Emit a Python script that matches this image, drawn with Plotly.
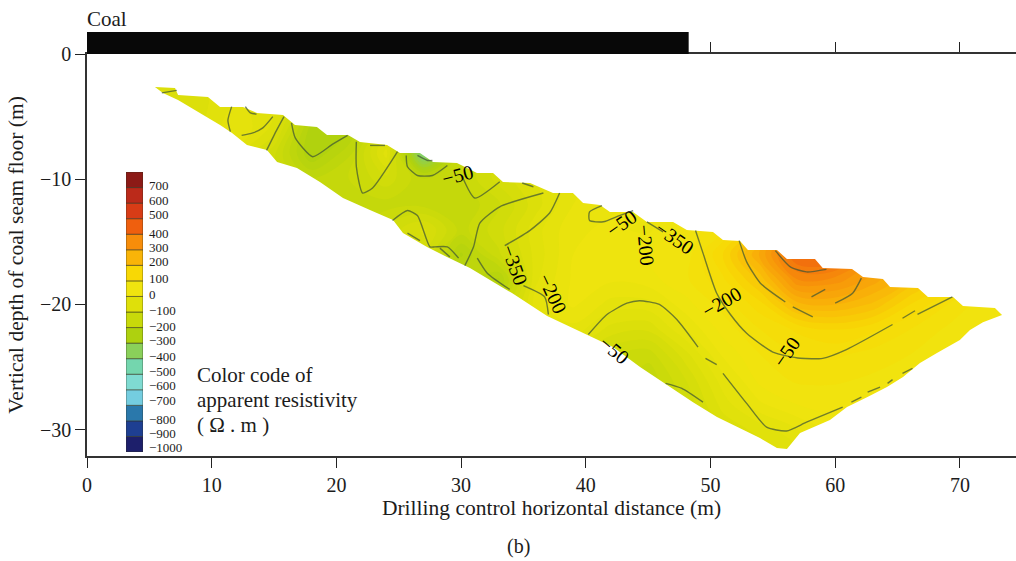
import plotly.graph_objects as go

# --- value grid (colour-coded apparent resistivity, ohm.m) ---
grid_x = [3, 6, 9, 12, 15, 18, 21, 24, 27, 30, 33, 36, 39, 42, 45, 48, 51, 54, 57, 60, 63, 66, 69, 72, 75]
grid_y = [-2, -4, -6, -8, -10, -12, -14, -16, -18, -20, -22, -24, -26, -28, -30, -32]
resistivity = [
    [-110, -110, -110, -80, -110, -220, -230, -120, -300, -170, -110, -80, -50, -20, -10, 10, 80, 170, 280, 300, 230, 140, 60, 20, 10],
    [-110, -110, -110, -70, -90, -220, -240, -120, -350, -170, -110, -80, -50, -20, -10, 10, 80, 170, 280, 300, 230, 140, 60, 20, 10],
    [-110, -110, -110, -50, -110, -290, -280, -130, -400, -170, -110, -80, -50, -20, -10, 10, 90, 170, 300, 320, 240, 140, 60, 20, 10],
    [-110, -110, -120, -90, -170, -300, -230, -90, -440, -210, -130, -85, -50, -20, -10, 10, 90, 170, 320, 340, 240, 140, 60, 20, 10],
    [-110, -110, -120, -110, -180, -220, -200, -160, -220, -200, -140, -100, -60, -30, -10, 10, 80, 170, 330, 350, 250, 150, 70, 20, 10],
    [-110, -110, -120, -110, -180, -210, -210, -210, -210, -220, -180, -110, -50, -30, -15, 15, 70, 170, 330, 350, 250, 150, 70, 20, 10],
    [-110, -110, -120, -110, -180, -210, -210, -170, -120, -210, -160, -85, -30, -20, -30, 10, 50, 150, 330, 350, 250, 150, 70, 20, 10],
    [-110, -110, -120, -110, -180, -210, -210, -170, -140, -280, -180, -90, -25, -10, 0, 10, 100, 230, 385, 390, 280, 160, 80, 20, 10],
    [-110, -110, -120, -110, -180, -210, -210, -170, -140, -230, -280, -80, -20, -20, -10, 20, 70, 160, 300, 290, 240, 170, 100, 40, 10],
    [-110, -110, -120, -110, -180, -210, -210, -170, -140, -230, -230, -60, -20, -60, -60, -10, 35, 90, 190, 200, 170, 100, 50, 10, 10],
    [-110, -110, -120, -110, -180, -210, -210, -170, -140, -230, -230, -60, -60, -110, -120, -50, 10, 50, 80, 100, 80, 50, 20, 10, 10],
    [-110, -110, -120, -110, -180, -210, -210, -170, -140, -230, -230, -60, -100, -170, -190, -110, -20, 25, 50, 55, 40, 25, 10, 10, 10],
    [-110, -110, -120, -110, -180, -210, -210, -170, -140, -230, -230, -60, -100, -170, -220, -150, -60, 10, 30, 30, 20, 10, 10, 10, 10],
    [-110, -110, -120, -110, -180, -210, -210, -170, -140, -230, -230, -60, -100, -170, -220, -170, -90, -30, 0, 5, 0, 10, 10, 10, 10],
    [-110, -110, -120, -110, -180, -210, -210, -170, -140, -230, -230, -60, -100, -170, -220, -170, -120, -90, -50, -10, 0, 10, 10, 10, 10],
    [-110, -110, -120, -110, -180, -210, -210, -170, -140, -230, -230, -60, -100, -170, -220, -170, -120, -120, -90, -10, 0, 10, 10, 10, 10],
]

# --- surveyed area outline ---
top_edge_x = [5.45, 7.06, 7.3, 9.7, 10.67, 12.51, 13.63, 15.72, 16.68, 18.44, 19.25, 20.93, 21.89, 24.06, 25.1, 26.7, 27.75, 29.67, 31.27, 32.56, 33.36, 35.53, 37.37, 38.97, 39.78, 41.14, 41.94, 43.79, 44.9, 47.0, 48.1, 50.2, 51.0, 52.37, 53.0, 55.33, 56.13, 58.38, 59.0, 61.35, 62.23, 63.83, 64.4, 66.64, 67.44, 69.45, 70.25, 72.81, 73.38]
top_edge_y = [-2.64, -2.72, -3.27, -3.43, -4.23, -4.23, -4.71, -4.87, -5.67, -5.83, -6.47, -6.47, -7.03, -7.27, -7.91, -7.91, -8.63, -8.71, -9.5, -9.5, -10.22, -10.3, -11.1, -11.1, -11.9, -12.06, -12.62, -12.62, -13.42, -13.42, -14.06, -14.22, -14.86, -14.94, -15.65, -15.65, -16.37, -16.37, -17.09, -17.17, -17.81, -17.97, -18.61, -18.69, -19.41, -19.41, -20.13, -20.29, -20.85]
bottom_edge_x = [73.38, 71.85, 70.81, 70.0, 68.16, 66.8, 65.44, 64.15, 62.55, 60.95, 59.58, 57.18, 56.13, 55.33, 53.97, 52.37, 50.52, 48.6, 46.5, 44.35, 42.18, 40.18, 38.17, 36.9, 34.08, 32.32, 30.71, 28.87, 27.27, 25.34, 24.54, 22.69, 20.53, 18.68, 16.84, 15.24, 14.43, 12.83, 11.63, 10.67, 8.9, 7.3, 6.09, 5.45]
bottom_edge_y = [-20.85, -21.41, -22.04, -22.84, -23.88, -24.68, -25.8, -26.6, -27.4, -28.19, -29.23, -30.27, -31.55, -31.47, -30.67, -29.87, -28.99, -27.8, -26.44, -25.0, -23.4, -22.44, -21.49, -20.93, -19.09, -18.05, -17.09, -16.21, -15.42, -14.3, -13.26, -12.46, -11.5, -10.22, -9.1, -8.63, -7.67, -7.27, -6.31, -5.67, -4.63, -3.67, -3.12, -2.64]

# --- contour lines, segments separated by None ---
contour_segments = [
    [(6.0, -3.1), (7.2, -2.9)],
    [(11.6, -4.2), (11.3, -5.3), (11.5, -6.2)],
    [(12.7, -4.2), (13.1, -4.7), (13.6, -4.8)],
    [(14.9, -5.0), (14.1, -5.9), (13.3, -6.3), (12.4, -6.5)],
    [(15.8, -5.0), (15.2, -6.1), (14.4, -7.7)],
    [(16.4, -5.5), (16.7, -6.7), (18.1, -8.2), (19.7, -7.2), (20.9, -6.5)],
    [(21.6, -7.0), (21.6, -9.0), (22.1, -11.1), (22.9, -10.7), (24.9, -7.8)],
    [(22.7, -7.3), (23.9, -7.3)],
    [(25.6, -8.1), (25.7, -9.0), (26.5, -9.7), (27.7, -9.7), (28.9, -8.9)],
    [(26.5, -8.1), (27.3, -8.5), (27.7, -8.5)],
    [(30.1, -9.8), (31.1, -11.5), (33.1, -10.2)],
    [(34.9, -10.3), (35.8, -10.6)],
    [(24.5, -13.3), (25.7, -12.5), (26.5, -12.9), (27.5, -15.4), (27.9, -15.4), (28.9, -15.4), (29.8, -16.3)],
    [(25.7, -14.3), (26.7, -14.9)],
    [(28.3, -15.5), (29.1, -16.2)],
    [(30.3, -16.9), (31.0, -15.4), (31.5, -13.5), (33.1, -12.2), (36.6, -11.1)],
    [(33.5, -15.3), (35.5, -14.1), (37.1, -12.7), (37.9, -11.1)],
    [(31.3, -16.3), (32.1, -17.5), (33.9, -18.8)],
    [(35.0, -18.5), (36.7, -19.4), (37.0, -20.8)],
    [(41.3, -12.1), (40.3, -12.6), (40.3, -13.3), (41.4, -13.4), (42.7, -12.9), (43.8, -12.5)],
    [(44.9, -13.4), (46.2, -14.2)],
    [(48.8, -14.1), (49.4, -15.9), (50.5, -19.1), (51.6, -20.8), (52.9, -22.3), (55.0, -23.8), (57.2, -24.3), (59.0, -24.3), (60.9, -23.6), (64.6, -21.6)],
    [(65.4, -21.1), (66.4, -20.5)],
    [(66.6, -20.8), (69.4, -19.4)],
    [(52.3, -14.9), (52.9, -16.6), (54.0, -18.3), (56.0, -19.8)],
    [(56.6, -20.2), (58.2, -21.0)],
    [(55.2, -15.7), (56.4, -17.0), (57.7, -17.4), (59.3, -17.2)],
    [(58.1, -19.4), (59.2, -18.8)],
    [(60.0, -19.9), (61.4, -19.1), (62.1, -17.9)],
    [(40.2, -22.4), (41.7, -20.8), (43.3, -19.9), (44.3, -19.7), (45.9, -20.0), (47.3, -21.2), (49.0, -23.4)],
    [(49.6, -24.3), (50.5, -24.8)],
    [(51.0, -25.5), (52.9, -27.9), (54.5, -29.8), (56.1, -30.1), (57.7, -29.4), (60.6, -28.2)],
    [(61.3, -27.8), (62.1, -27.4)],
    [(62.6, -27.0), (63.6, -26.6)],
    [(64.2, -26.3), (64.6, -26.0)],
    [(65.4, -25.5), (66.2, -25.1)],
    [(46.4, -26.3), (47.7, -26.7), (49.4, -27.8)],
]

# --- contour labels ---
label_text = ["−50", "−350", "−200", "−50", "−200", "−350", "−200", "−50", "−50"]
label_x = [29.75, 34.3, 37.3, 42.9, 44.8, 47.15, 50.9, 42.3, 56.1]
label_y = [-9.66, -16.85, -19.1, -13.5, -15.26, -14.7, -19.8, -23.6, -23.8]
label_angle = [-15, 70, 65, -35, 85, 35, -30, 40, -55]

# --- colour code ---
legend_values = [-1000, -900, -800, -700, -600, -500, -400, -300, -200, -100, 0, 100, 200, 300, 400, 500, 600, 700]
legend_colors = ["#1d1f6b", "#1e3f92", "#2a78ab", "#74cde0", "#7fdbd2", "#74d6ae", "#8ad05a", "#aed10f",
                 "#c8d90a", "#dfe00a", "#f0e40f", "#f8d805", "#f9b408", "#f78d0a", "#ef5f0e", "#d83c16", "#bb2a1a", "#8c1a16"]
legend_tick_pos = [-1018, -928, -838, -716, -619, -529, -433, -336, -240, -137, -34, 68, 178, 268, 358, 474, 564, 666]
legend_tick_text = ["−1000", "−900", "−800", "−700", "−600", "−500", "−400", "−300", "−200", "−100",
                    "0", "100", "200", "300", "400", "500", "600", "700"]

x_ticks = [0, 10, 20, 30, 40, 50, 60, 70]
y_ticks = [0, -10, -20, -30]
coal_end = 48.25
X_MAX, Y_MIN = 74.5, -32.1

SERIF = "Liberation Serif"
INK = "#1c1c1c"
scale = [[(v + 1000) / 1700, c] for v, c in zip(legend_values, legend_colors)]

fig = go.Figure()

fig.add_trace(go.Contour(
    x=grid_x, y=grid_y, z=resistivity, zauto=False, zmin=-1000, zmax=700, colorscale=scale,
    showscale=False, hoverinfo="skip", line=dict(width=0),
    contours=dict(coloring="fill", start=-1000, end=700, size=25, showlines=False),
))

# white masks outside the surveyed outline
fig.add_trace(go.Scatter(
    x=[0, 0, X_MAX, X_MAX] + top_edge_x[::-1],
    y=[top_edge_y[0], 0, 0, top_edge_y[-1]] + top_edge_y[::-1],
    mode="lines", fill="toself", fillcolor="white", line=dict(width=0, color="white"),
    hoverinfo="skip", showlegend=False,
))
fig.add_trace(go.Scatter(
    x=[0, 0, X_MAX, X_MAX] + bottom_edge_x,
    y=[bottom_edge_y[-1], Y_MIN, Y_MIN, bottom_edge_y[0]] + bottom_edge_y,
    mode="lines", fill="toself", fillcolor="white", line=dict(width=0, color="white"),
    hoverinfo="skip", showlegend=False,
))

line_x, line_y = [], []
for seg in contour_segments:
    line_x += [p[0] for p in seg] + [None]
    line_y += [p[1] for p in seg] + [None]
fig.add_trace(go.Scatter(
    x=line_x, y=line_y, mode="lines", hoverinfo="skip", showlegend=False,
    line=dict(color="rgba(62,84,52,0.72)", width=1.4, shape="spline", smoothing=0.6),
))

# colour code bar
fig.add_trace(go.Bar(
    x=[0] * len(legend_values), y=[100] * len(legend_values), base=[v - 50 for v in legend_values],
    width=1, xaxis="x2", yaxis="y2", hoverinfo="skip", showlegend=False,
    marker=dict(color=legend_colors, line=dict(color="rgba(50,50,30,0.55)", width=1)),
))

annotations = [
    dict(x=t_x, y=t_y, xref="x", yref="y", text=t, textangle=a, showarrow=False,
         font=dict(family=SERIF, size=20, color="black"))
    for t, t_x, t_y, a in zip(label_text, label_x, label_y, label_angle)
]
for text, px, py, size in [("Color code of", 195, 375, 21), ("apparent resistivity", 195, 400, 21), ("( Ω . m )", 195, 425, 21)]:
    annotations.append(dict(x=(px - 87) / 929, y=(456 - py) / 402, xref="paper", yref="paper", text=text,
                            xanchor="left", yanchor="middle", showarrow=False,
                            font=dict(family=SERIF, size=size, color=INK)))
annotations.append(dict(x=-2 / 929, y=(456 - 19) / 402, xref="paper", yref="paper", text="Coal", xanchor="left",
                        yanchor="middle", showarrow=False, font=dict(family=SERIF, size=21, color=INK)))
annotations.append(dict(x=(518 - 87) / 929, y=(456 - 546) / 402, xref="paper", yref="paper", text="(b)",
                        showarrow=False, yanchor="middle", font=dict(family=SERIF, size=20, color=INK)))

fig.update_layout(
    width=1016, height=561, margin=dict(l=87, r=0, t=54, b=105),
    paper_bgcolor="white", plot_bgcolor="white", showlegend=False, barmode="overlay",
    font=dict(family=SERIF, size=20, color=INK),
    annotations=annotations,
    xaxis=dict(range=[0, X_MAX], tickvals=x_ticks, ticks="outside", ticklen=10, tickwidth=1, tickcolor="#222",
               showline=True, linecolor="#333", linewidth=1.5, mirror="ticks", showgrid=False, zeroline=False,
               title=dict(text="Drilling control horizontal distance (m)", standoff=3,
                          font=dict(family=SERIF, size=21.5, color=INK)),
               tickfont=dict(family=SERIF, size=20, color=INK)),
    yaxis=dict(range=[Y_MIN, 0], tickvals=y_ticks, ticks="outside", ticklen=10, tickwidth=1, tickcolor="#222",
               showline=True, linecolor="#333", linewidth=1.5, showgrid=False, zeroline=False,
               title=dict(text="Vertical depth of coal seam floor (m)", standoff=10,
                          font=dict(family=SERIF, size=21.5, color=INK)),
               tickfont=dict(family=SERIF, size=20, color=INK)),
    xaxis2=dict(domain=[39 / 929, 56 / 929], range=[-0.5, 0.5], anchor="y2", visible=False, fixedrange=True),
    yaxis2=dict(domain=[4 / 402, 284 / 402], range=[-1050, 750], anchor="x2", side="right",
                tickvals=legend_tick_pos, ticktext=legend_tick_text, ticks="", showgrid=False, zeroline=False,
                showline=False, ticklabelstandoff=5, tickfont=dict(family=SERIF, size=13, color=INK)),
    shapes=[dict(type="rect", xref="x", yref="paper", x0=0, x1=coal_end, y0=1, y1=1 + 22 / 402,
                 fillcolor="#080808", line=dict(width=0), layer="above")],
)

fig.write_html("out.html", config=dict(displayModeBar=False),
               post_script="document.body.style.margin='0';document.body.style.overflow='hidden';")
